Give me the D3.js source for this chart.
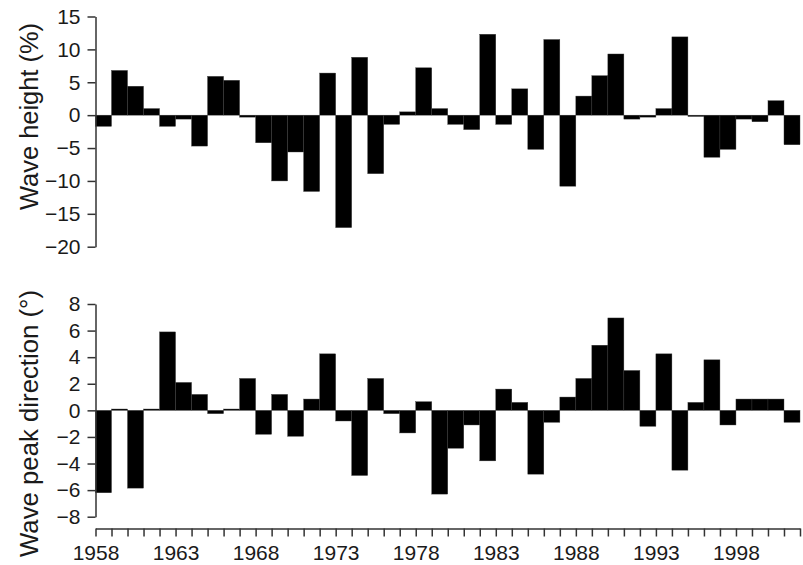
<!DOCTYPE html>
<html>
<head>
<meta charset="utf-8">
<script src="https://cdn.jsdelivr.net/npm/d3@7"></script>
<style>
  html, body { margin: 0; padding: 0; background: #fff; }
  svg { display: block; }
  text { font-family: "Liberation Sans", Arial, Helvetica, sans-serif; fill: #1a1a1a; }
</style>
</head>
<body>
<svg id="chart" width="803" height="565"></svg>
<script>
const years = d3.range(1958, 2002);
const waveHeight = [
  -1.7, 6.8, 4.4, 1.0, -1.7, -0.6, -4.7, 5.9, 5.3, -0.3,
  -4.2, -10.0, -5.6, -11.6, 6.4, -17.1, 8.8, -8.9, -1.4, 0.5,
  7.2, 1.0, -1.4, -2.2, 12.3, -1.4, 4.0, -5.2, 11.5, -10.8,
  2.9, 6.0, 9.3, -0.6, -0.3, 1.0, 11.9, -0.2, -6.4, -5.2,
  -0.6, -1.0, 2.2, -4.5
];
const wavePeakDirection = [
  -6.2, 0.1, -5.85, 0.1, 5.9, 2.1, 1.2, -0.25, 0.1, 2.4,
  -1.8, 1.2, -1.95, 0.85, 4.25, -0.8, -4.9, 2.4, -0.25, -1.7,
  0.65, -6.3, -2.85, -1.1, -3.8, 1.6, 0.6, -4.8, -0.9, 1.0,
  2.4, 4.9, 6.95, 3.0, -1.2, 4.25, -4.5, 0.6, 3.8, -1.1,
  0.85, 0.85, 0.85, -0.9
];
const heightTicks = [15, 10, 5, 0, -5, -10, -15, -20];
const directionTicks = [8, 6, 4, 2, 0, -2, -4, -6, -8];
const yearLabelStep = 5;

const svg = d3.select("#chart");
const left = 95.5, right = 800;

const xBand = d3.scaleBand().domain(years).range([left, right]).padding(0);
const xLin = d3.scaleLinear().domain([1958, 2002]).range([left, right]);

const yTop = d3.scaleLinear().domain([-20, 15]).range([246.7, 16.5]);
const yBot = d3.scaleLinear().domain([-8, 8]).range([516.7, 304]);

function drawPanel(values, y, ticks, title, titleY, titleLen) {
  const g = svg.append("g");
  g.selectAll("rect").data(values).join("rect")
    .attr("x", (d, i) => xBand(years[i]))
    .attr("width", xBand.bandwidth())
    .attr("y", d => Math.min(y(d), y(0)))
    .attr("height", d => Math.abs(y(d) - y(0)))
    .attr("fill", "#000")
    .attr("stroke", "#3a3a3a")
    .attr("stroke-width", 0.4);

  const ax = svg.append("g")
    .attr("transform", `translate(${left},0)`)
    .call(d3.axisLeft(y).tickValues(ticks).tickSize(8).tickSizeOuter(0).tickPadding(7));
  ax.select(".domain").attr("stroke", "#333").attr("stroke-width", 1.5);
  ax.selectAll(".tick line").attr("stroke", "#333").attr("stroke-width", 1.5);
  ax.selectAll(".tick text").style("font-size", "21px").attr("fill", "#1a1a1a");

  svg.append("text")
    .attr("transform", `translate(38,${titleY}) rotate(-90)`)
    .attr("text-anchor", "middle")
    .attr("textLength", titleLen)
    .attr("lengthAdjust", "spacingAndGlyphs")
    .style("font-size", "25px")
    .text(title);
}

drawPanel(waveHeight, yTop, heightTicks, "Wave height (%)", 116.5, 187);
drawPanel(wavePeakDirection, yBot, directionTicks, "Wave peak direction (°)", 423.5, 267);

const xAx = svg.append("g")
  .attr("transform", "translate(0,528.5)")
  .call(d3.axisBottom(xLin)
    .tickValues(d3.range(1958, 2003))
    .tickSize(8).tickSizeOuter(0).tickPadding(9)
    .tickFormat(d => ((d - 1958) % yearLabelStep === 0 && d < 2002) ? String(d) : ""));
xAx.select(".domain").attr("stroke", "#333").attr("stroke-width", 1.5);
xAx.selectAll(".tick line").attr("stroke", "#333").attr("stroke-width", 1.5);
xAx.selectAll(".tick text").style("font-size", "21px").attr("fill", "#1a1a1a");
</script>
</body>
</html>
